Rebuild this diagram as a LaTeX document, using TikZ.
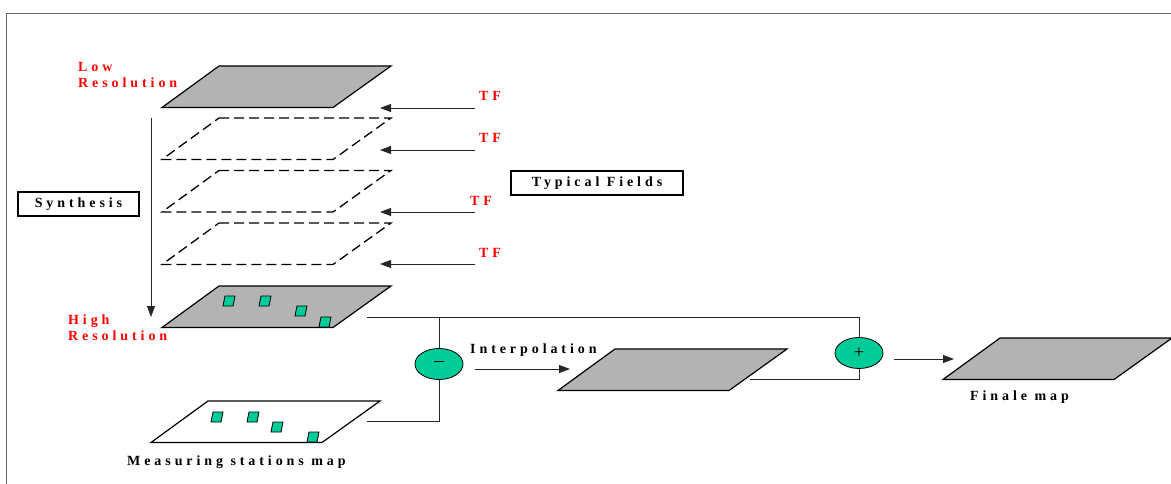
\documentclass[tikz,border=0pt]{standalone}
\usepackage{fontspec}
\setmainfont{Liberation Serif}
\newfontfamily\spreadfont[LetterSpace=28]{Liberation Serif}
\usetikzlibrary{arrows.meta,shapes.geometric}
\definecolor{sheetgray}{HTML}{B3B3B3}
\definecolor{stationgreen}{HTML}{00CC99}
\tikzset{
  lbl/.style={font=\spreadfont\bfseries\fontsize{14}{16}\selectfont,inner sep=0pt,anchor=base west},
  redlbl/.style={lbl,text=red},
  titlebox/.style={lbl,anchor=center,draw,line width=1.3pt,minimum height=24pt,inner xsep=13pt},
  sheetline/.style={line width=1.2pt,line join=miter},
  dashsheet/.style={sheetline,line width=1.3pt,dash pattern=on 10pt off 5pt},
  stationbox/.style={fill=stationgreen,draw,line width=0.8pt},
  opnode/.style={ellipse,draw,line width=0.8pt,fill=stationgreen,minimum width=48pt,minimum height=31pt,inner sep=0pt,font=\fontsize{19}{19}\selectfont},
  link/.style={line width=0.9pt,black!85},
  arr/.style={link,-{Triangle[length=11pt,width=8pt]}}
}
% one map sheet, origin at its lower-left x and upper y
\newcommand{\sheet}[2][]{\draw[sheetline,#1,shift={#2}] (57,0) -- (229,0) -- (171,41.5) -- (0,41.5) -- cycle;}
\newcommand{\station}[2]{\draw[stationbox,shift={(#1,#2)}] (2,0) -- (12,0) -- (10,10) -- (0,10) -- cycle;}
\begin{document}
\begin{tikzpicture}[x=1pt,y=-1pt]
\useasboundingbox (0,0) rectangle (1171,484);
\draw[line width=1pt,black!60] (6.5,484) -- (6.5,13.5) -- (1171,13.5);

% synthesis column
\sheet[fill=sheetgray]{(162,66)}
\foreach \y in {118,170.5,223} {\sheet[dashsheet]{(162,\y)}}
\sheet[fill=sheetgray]{(162,286)}
\foreach \x/\y in {223/296,259/296,295/306,319/317} {\station{\x}{\y}}
\sheet[fill=white]{(151,401)}
\foreach \x/\y in {211/412,247/412,271/422,307/432} {\station{\x}{\y}}
\sheet[fill=sheetgray]{(558,349)}
\sheet[fill=sheetgray]{(943,338)}

\node[redlbl] (low) at (78,72) {Low};
\node[redlbl] (lowres) at (78,88) {Resolution};
\node[redlbl] (high) at (68,324) {High};
\node[redlbl] (highres) at (68,340) {Resolution};
\node[lbl] (meas) at (127,465) {Measuring stations map};
\node[lbl] (interp) at (470,353) {Interpolation};
\node[lbl] (finale) at (970,400) {Finale map};
\node[titlebox,minimum width=121pt] (synth) at (78.5,204) {Synthesis};
\node[titlebox,minimum width=172pt] (typ) at (597,183) {Typical Fields};

\coordinate (synA) at (151,118);
\coordinate (synB) at (151,317);
\draw[arr] (synA) -- (synB);

% typical fields arrows
\foreach \n/\y/\tx in {1/108/479,2/150/479,3/212/470,4/264/479}{
  \coordinate (tfA\n) at (475,\y);
  \coordinate (tfB\n) at (380,\y);
  \node[redlbl] (tf\n) at (\tx,\y-7) {TF};
  \draw[arr] (tfA\n) -- (tfB\n);
}

\node[opnode] (minus) at (439,364) {–};
\node[opnode] (plus) at (859,353) {\raisebox{-2pt}{+}};

\coordinate (hiR) at (367,317);
\coordinate (msR) at (367,421);
\coordinate (midR) at (750,379);
\draw[link] (hiR) -| (plus.north);
\draw[link] (minus.north) -- (minus.north |- hiR);
\draw[link] (msR) -| (minus.south);
\draw[link] (midR) -| (plus.south);

\coordinate (ipA) at (475,369);
\coordinate (ipB) at (570,369);
\draw[arr] (ipA) -- (ipB);
\coordinate (fnA) at (894,359);
\coordinate (fnB) at (954,359);
\draw[arr] (fnA) -- (fnB);
\end{tikzpicture}
\end{document}
